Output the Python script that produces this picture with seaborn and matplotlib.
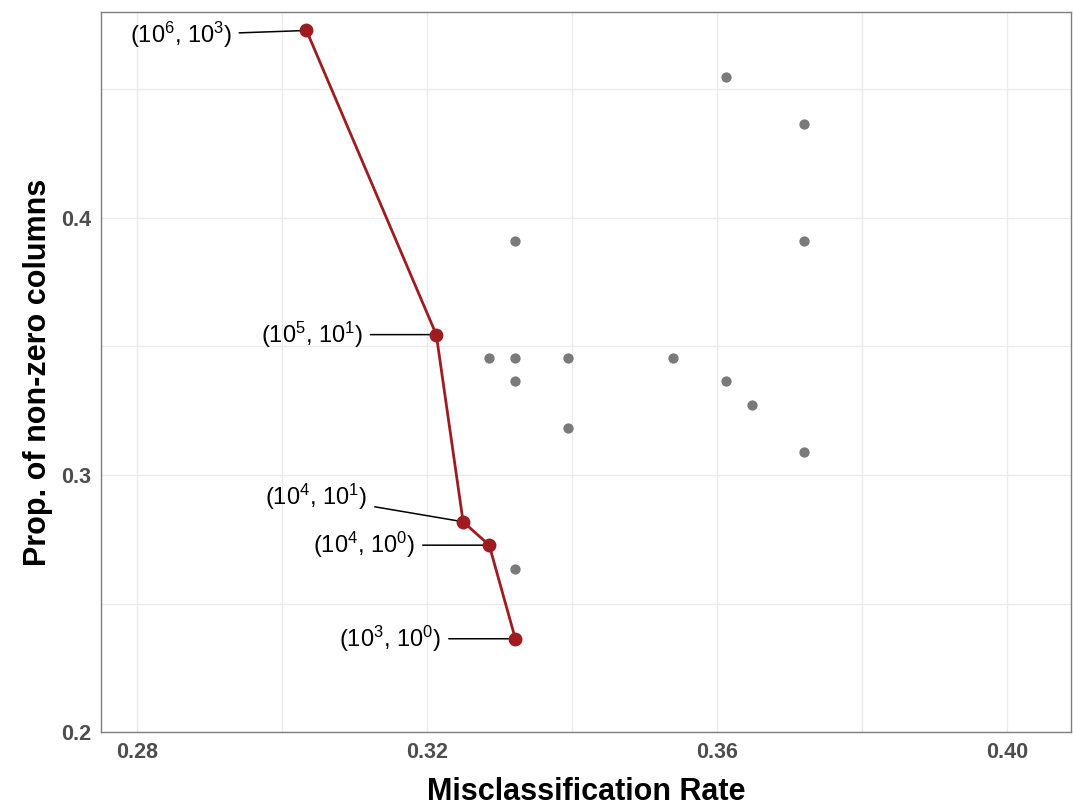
import matplotlib
matplotlib.use("Agg")
import matplotlib.pyplot as plt
import seaborn as sns
import numpy as np
import pandas as pd

# pareto front (red) and the other settings (grey)
front_rate = [0.3034, 0.3213, 0.3250, 0.3286, 0.3322]
front_prop = [52 / 110, 39 / 110, 31 / 110, 30 / 110, 26 / 110]
front_labels = ["(10$^6$, 10$^3$)", "(10$^5$, 10$^1$)", "(10$^4$, 10$^1$)",
                "(10$^4$, 10$^0$)", "(10$^3$, 10$^0$)"]
# where each label sits (data coords, right end of the text)
label_x = [0.2931, 0.3112, 0.3118, 0.3184, 0.3220]
label_y = [0.4710, 39 / 110, 0.2915, 30 / 110, 26 / 110]

other_rate = [0.3612, 0.3720, 0.3322, 0.3720, 0.3286, 0.3322, 0.3395, 0.3539,
              0.3322, 0.3612, 0.3648, 0.3395, 0.3720, 0.3322]
other_prop = [50 / 110, 48 / 110, 43 / 110, 43 / 110, 38 / 110, 38 / 110, 38 / 110,
              38 / 110, 37 / 110, 37 / 110, 36 / 110, 35 / 110, 34 / 110, 29 / 110]

front = pd.DataFrame({"rate": front_rate, "prop": front_prop})
other = pd.DataFrame({"rate": other_rate, "prop": other_prop})

sns.set_theme(style="white")
plt.rcParams["font.family"] = ["Liberation Sans", "DejaVu Sans"]
plt.rcParams["mathtext.fontset"] = "custom"
plt.rcParams["mathtext.rm"] = "Liberation Sans"
plt.rcParams["mathtext.default"] = "regular"

fig = plt.figure(figsize=(10.73, 8.06), dpi=100)
ax = fig.add_axes([0.094, 0.0914, 0.904, 0.894])

sns.scatterplot(data=other, x="rate", y="prop", color="#7a7a7a", s=55,
                linewidth=0, ax=ax, zorder=3)
sns.lineplot(data=front, x="rate", y="prop", color="#9e1b1f", linewidth=2.0,
             marker="o", markersize=10, markeredgewidth=0, sort=False, ax=ax, zorder=4)

for txt, px, py, lx, ly in zip(front_labels, front_rate, front_prop, label_x, label_y):
    ax.annotate(txt, xy=(px, py), xytext=(lx, ly), ha="right", va="center",
                fontsize=17, color="black",
                arrowprops=dict(arrowstyle="-", color="black", lw=1.1,
                                shrinkA=3, shrinkB=0))

ax.set_xlim(0.27505, 0.4088)
ax.set_ylim(0.2, 0.48)
ax.set_xticks([0.28, 0.32, 0.36, 0.40])
ax.set_xticklabels(["0.28", "0.32", "0.36", "0.40"])
ax.set_yticks([0.2, 0.3, 0.4])
ax.set_yticklabels(["0.2", "0.3", "0.4"])
ax.set_xticks([0.30, 0.34, 0.38], minor=True)
ax.set_yticks([0.25, 0.35, 0.45], minor=True)
ax.grid(True, which="both", color="#ebebeb", linewidth=1.0)
ax.set_axisbelow(True)

ax.tick_params(axis="both", which="major", length=4, width=1, color="#4d4d4d",
               labelsize=15.5, labelcolor="#4d4d4d", pad=3)
ax.tick_params(axis="both", which="minor", length=0)
for lab in ax.get_xticklabels() + ax.get_yticklabels():
    lab.set_fontweight("bold")
for sp in ax.spines.values():
    sp.set_color("#7f7f7f")
    sp.set_linewidth(1.0)

ax.set_xlabel("Misclassification Rate", fontsize=22, fontweight="bold",
              color="black", labelpad=10)
ax.set_ylabel("Prop. of non-zero columns", fontsize=22, fontweight="bold",
              color="black", labelpad=6)

fig.savefig("out.png", dpi=100)
